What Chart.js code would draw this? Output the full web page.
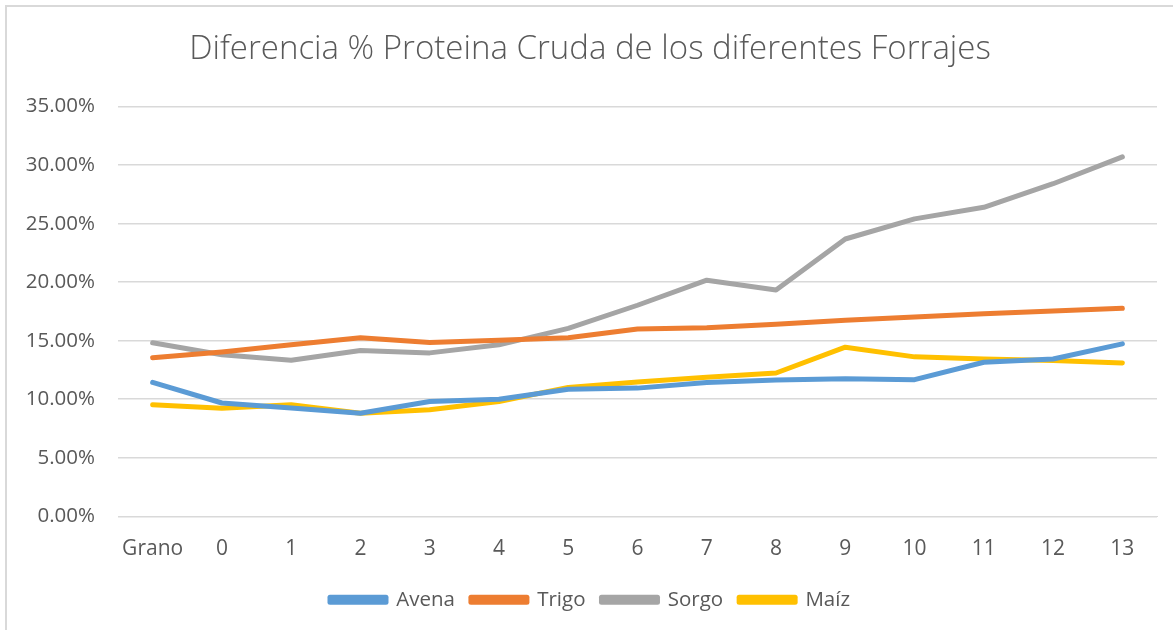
<!DOCTYPE html>
<html>
<head>
<meta charset="utf-8">
<script src="https://cdn.jsdelivr.net/npm/chart.js@4"></script>
<style>
  body { margin: 0; background: #fff; overflow: hidden; }
  #box { position: absolute; left: 5px; top: 5px; width: 1186px; height: 625px;
         border-left: 2px solid #d9d9d9; border-top: 2px solid #d9d9d9; }
</style>
</head>
<body>
<div id="box"><canvas id="chart1" width="1186" height="620"></canvas></div>
<script>
// categorias (eje x)
const categorias = ['Grano', '0', '1', '2', '3', '4', '5', '6', '7', '8', '9', '10', '11', '12', '13'];

// % proteina cruda por forraje
const avena = [11.44, 9.68, 9.25, 8.8, 9.8, 10.0, 10.85, 10.95, 11.44, 11.64, 11.76, 11.67, 13.16, 13.44, 14.73];
const trigo = [13.55, 14.04, 14.65, 15.25, 14.85, 15.05, 15.25, 16.0, 16.1, 16.4, 16.74, 17.02, 17.3, 17.54, 17.77];
const sorgo = [14.82, 13.8, 13.33, 14.16, 13.96, 14.65, 16.05, 18.03, 20.17, 19.34, 23.69, 25.41, 26.4, 28.41, 30.7];
const maiz = [9.53, 9.24, 9.53, 8.81, 9.1, 9.81, 11.01, 11.47, 11.87, 12.24, 14.45, 13.62, 13.44, 13.3, 13.1];

// ticks eje y
const yMin = 0;
const yMax = 35;
const yPaso = 5;

const fuente = "'Open Sans', 'Noto Sans', sans-serif";
const gris = '#595959';

function serie(nombre, datos, color) {
    return {
        label: nombre,
        data: datos,
        borderColor: color,
        backgroundColor: color,
        borderWidth: 5,
        borderCapStyle: 'round',
        borderJoinStyle: 'round',
        pointRadius: 0,
        tension: 0
    };
}

const chartData = {
    labels: categorias,
    datasets: [
        serie('Avena', avena, '#5b9bd5'),
        serie('Trigo', trigo, '#ed7d31'),
        serie('Sorgo', sorgo, '#a5a5a5'),
        serie('Maíz', maiz, '#ffc000')
    ]
};

const chartConfig = {
    type: 'line',
    data: chartData,
    options: {
        responsive: false,
        animation: false,
        layout: { padding: { left: 16, right: 36, top: 23, bottom: 7 } },
        plugins: {
            title: {
                display: true,
                text: 'Diferencia % Proteina Cruda de los diferentes Forrajes',
                color: gris,
                font: { family: fuente, size: 33, weight: '300' },
                padding: { top: 0, bottom: 37 }
            },
            legend: {
                position: 'bottom',
                labels: {
                    color: gris,
                    font: { family: fuente, size: 20.5 },
                    boxWidth: 56,
                    boxHeight: 5,
                    padding: 16
                }
            },
            tooltip: { enabled: false }
        },
        scales: {
            x: {
                offset: true,
                grid: { display: false },
                border: { color: '#d9d9d9' },
                ticks: { color: gris, font: { family: fuente, size: 21 }, padding: 12 }
            },
            y: {
                min: yMin,
                max: yMax,
                border: { display: false },
                grid: { color: '#d9d9d9', lineWidth: 1.5, drawTicks: false },
                afterFit: function (scale) { scale.width = 95; },
                ticks: {
                    stepSize: yPaso,
                    color: gris,
                    font: { family: fuente, size: 20.5 },
                    padding: 23,
                    callback: v => v.toFixed(2) + '%'
                }
            }
        }
    }
};

new Chart(document.getElementById('chart1'), chartConfig);
</script>
</body>
</html>
